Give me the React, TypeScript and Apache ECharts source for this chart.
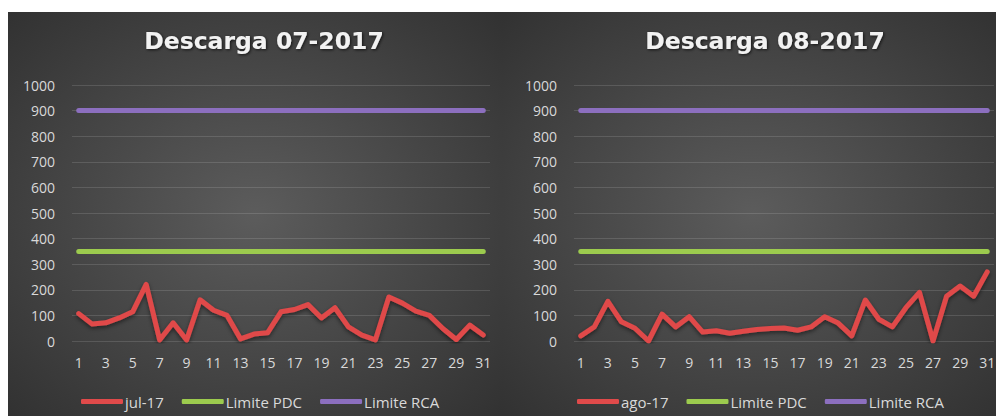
import React, { useEffect, useRef } from "react";
import * as echarts from "echarts";

const days = ["1","2","3","4","5","6","7","8","9","10","11","12","13","14","15","16","17","18","19","20","21","22","23","24","25","26","27","28","29","30","31"];
const jul17 = [107, 66, 71, 90, 114, 221, 4, 71, 4, 161, 120, 100, 8, 27, 32, 114, 123, 142, 90, 130, 55, 23, 4, 172, 148, 117, 100, 49, 6, 62, 23];
const ago17 = [20, 55, 155, 75, 50, 0, 105, 55, 95, 35, 40, 30, 38, 45, 49, 51, 42, 55, 95, 70, 20, 160, 85, 55, 130, 190, 0, 175, 215, 175, 270];
const limitePDC = [350, 350, 350, 350, 350, 350, 350, 350, 350, 350, 350, 350, 350, 350, 350, 350, 350, 350, 350, 350, 350, 350, 350, 350, 350, 350, 350, 350, 350, 350, 350];
const limiteRCA = [900, 900, 900, 900, 900, 900, 900, 900, 900, 900, 900, 900, 900, 900, 900, 900, 900, 900, 900, 900, 900, 900, 900, 900, 900, 900, 900, 900, 900, 900, 900];
const titles = ["Descarga 07-2017", "Descarga 08-2017"];
const seriesNames = ["jul-17", "ago-17"];

const RED = "#e04a4a";
const GREEN = "#9ccb4e";
const PURPLE = "#8c6fbf";
const LABEL = "#d9d9d9";
const FONT = "'Open Sans', 'DejaVu Sans', sans-serif";

export default function App() {
  const ref = useRef<HTMLDivElement>(null);
  useEffect(() => {
    if (!ref.current) return;
    const chart = echarts.init(ref.current, null, { renderer: "svg" });
    const grids = [
      { left: 64, top: 73, width: 418, height: 256 },
      { left: 566, top: 73, width: 420, height: 256 },
    ];
    const mkSeries = (idx: number, name: string, data: number[], color: string, shadow: boolean) => ({
      type: "line",
      name,
      xAxisIndex: idx,
      yAxisIndex: idx,
      data,
      symbol: "none",
      color,
      lineStyle: shadow
        ? { color, width: 5, cap: "round", join: "round", shadowColor: "rgba(0,0,0,0.5)", shadowBlur: 4, shadowOffsetY: 2 }
        : { color, width: 5, cap: "round", join: "round" },
      z: 3,
    });
    const panelBg = (x: number, w: number) => ({
      type: "rect",
      z: -10,
      silent: true,
      shape: { x, y: 0, width: w, height: 404 },
      style: {
        fill: new echarts.graphic.RadialGradient(0.5, 0.5, 0.75, [
          { offset: 0, color: "#5c5c5c" },
          { offset: 1, color: "#2f2f2f" },
        ]),
      },
    });
    chart.setOption({
      animation: false,
      backgroundColor: "#303030",
      graphic: [panelBg(0, 494), panelBg(494, 502)],
      title: titles.map((t, i) => ({
        text: t,
        left: i === 0 ? 251 : 752,
        top: 12,
        textAlign: "center",
        textStyle: {
          color: "#f2f2f2",
          fontFamily: "'DejaVu Sans', sans-serif",
          fontWeight: "bold",
          fontSize: 23.5,
          textShadowColor: "rgba(0,0,0,0.7)",
          textShadowBlur: 3,
          textShadowOffsetX: 1,
          textShadowOffsetY: 1,
        },
      })),
      legend: [0, 1].map((i) => ({
        left: i === 0 ? 68 : 564,
        top: 377,
        itemWidth: 42,
        itemHeight: 5,
        itemGap: 18,
        icon: "roundRect",
        data: [seriesNames[i], "Limite PDC", "Limite RCA"],
        textStyle: { color: LABEL, fontFamily: FONT, fontSize: 15, padding: [0, 0, 0, -3] },
        inactiveColor: "#777",
      })),
      grid: grids,
      xAxis: [0, 1].map((i) => ({
        type: "category",
        gridIndex: i,
        data: days,
        boundaryGap: true,
        axisLine: { show: false },
        axisTick: { show: false },
        axisLabel: { color: LABEL, fontFamily: FONT, fontSize: 14, interval: 1, margin: 14 },
        splitLine: { show: false },
      })),
      yAxis: [0, 1].map((i) => ({
        type: "value",
        gridIndex: i,
        min: 0,
        max: 1000,
        interval: 100,
        axisLine: { show: false },
        axisTick: { show: false },
        axisLabel: { color: LABEL, fontFamily: FONT, fontSize: 14, margin: 17, formatter: (v: number) => String(v) },
        splitLine: { lineStyle: { color: "rgba(255,255,255,0.13)", width: 1 } },
      })),
      series: [
        mkSeries(0, seriesNames[0], jul17, RED, true),
        mkSeries(0, "Limite PDC", limitePDC, GREEN, false),
        mkSeries(0, "Limite RCA", limiteRCA, PURPLE, false),
        mkSeries(1, seriesNames[1], ago17, RED, true),
        mkSeries(1, "Limite PDC", limitePDC, GREEN, false),
        mkSeries(1, "Limite RCA", limiteRCA, PURPLE, false),
      ],
    });
    return () => chart.dispose();
  }, []);
  return <div ref={ref} style={{ width: 996, height: 404, marginTop: 4 }} />;
}
